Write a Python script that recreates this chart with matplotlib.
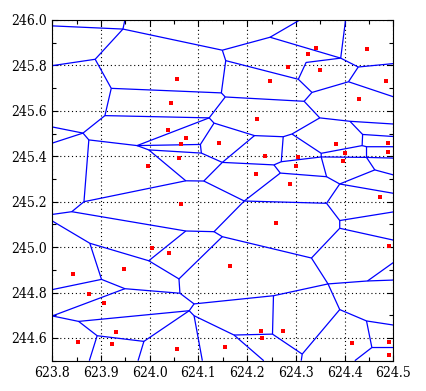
import matplotlib
matplotlib.use("Agg")
import matplotlib.pyplot as plt
from matplotlib.collections import LineCollection
from matplotlib.ticker import MultipleLocator, FormatStrFormatter

# red sample points (x, y)
point_x = [624.055, 624.044, 624.038, 624.075, 624.065, 624.061, 623.997, 624.143,
           624.342, 624.324, 624.445, 624.283, 624.350, 624.246, 624.484, 624.430,
           624.221, 624.383, 624.490, 624.400, 624.490, 624.237, 624.305, 624.397,
           624.301, 624.219, 624.287, 624.473, 624.065, 624.005, 624.040, 623.947,
           623.843, 623.876, 623.907, 623.931, 623.853, 623.923, 624.055, 624.260,
           624.492, 624.165, 624.229, 624.231, 624.274, 624.155, 624.416, 624.492,
           624.492]
point_y = [245.739, 245.633, 245.514, 245.479, 245.453, 245.391, 245.357, 245.457,
           245.875, 245.849, 245.871, 245.792, 245.779, 245.730, 245.730, 245.651,
           245.563, 245.453, 245.457, 245.413, 245.417, 245.400, 245.395, 245.378,
           245.356, 245.321, 245.277, 245.219, 245.189, 244.995, 244.973, 244.902,
           244.880, 244.792, 244.753, 244.625, 244.581, 244.572, 244.550, 245.105,
           245.006, 244.916, 244.629, 244.599, 244.629, 244.559, 244.577, 244.581,
           244.524]

# voronoi vertices
vertices = {
    "L1": (623.800, 245.974), "V1": (623.945, 245.960), "T1": (623.949, 246.000),
    "V2": (623.888, 245.827), "L2": (623.800, 245.799), "V3": (623.921, 245.699),
    "V4": (623.908, 245.579), "V5": (623.863, 245.502), "L3": (623.800, 245.529),
    "L4": (623.800, 245.458), "V6": (624.122, 245.569), "V6b": (624.132, 245.546),
    "V7": (623.875, 245.472), "V8": (623.974, 245.447), "V9": (624.149, 245.867),
    "V10": (624.247, 245.924), "T2": (624.308, 246.000), "V11": (624.392, 245.832),
    "T3": (624.402, 246.000), "V17": (624.428, 245.793), "R1": (624.500, 245.808),
    "V16": (624.408, 245.728), "R2": (624.500, 245.662), "V12": (624.321, 245.813),
    "V13": (624.305, 245.739), "V14": (624.156, 245.821), "V18": (624.147, 245.679),
    "V19": (624.155, 245.661), "V15": (624.333, 245.681), "V20": (624.317, 245.642),
    "V21": (624.349, 245.569), "V46": (624.411, 245.554), "R3": (624.500, 245.542),
    "V49": (624.437, 245.496), "R4": (624.500, 245.487), "V73a": (624.436, 245.447),
    "V73b": (624.445, 245.442), "R5": (624.500, 245.442), "V71": (624.445, 245.395),
    "R6": (624.500, 245.392), "V48": (624.352, 245.413), "V43": (624.352, 245.397),
    "V47": (624.292, 245.498), "V42": (624.274, 245.486), "V22": (624.215, 245.491),
    "V41": (624.270, 245.376), "V40": (624.255, 245.362), "V23": (624.149, 245.373),
    "V28": (624.104, 245.452), "V26": (624.106, 245.414), "V25": (623.998, 245.428),
    "V27": (624.074, 245.292), "V39": (624.111, 245.291), "V38": (624.194, 245.203),
    "V72": (624.268, 245.326), "V44": (624.363, 245.310), "V45": (624.390, 245.278),
    "R7": (624.500, 245.237), "V70": (624.462, 245.340), "R8": (624.500, 245.318),
    "V68": (624.363, 245.193), "V69": (624.390, 245.117), "R9": (624.500, 245.155),
    "V61": (624.390, 245.083), "R10": (624.500, 245.031), "V60": (624.332, 244.952),
    "V37": (624.149, 245.046), "V30": (624.132, 245.068), "V34": (624.074, 245.071),
    "V29": (623.840, 245.156), "L5": (623.800, 245.144), "V24": (623.865, 245.200),
    "L6": (623.800, 245.115), "V31": (623.877, 245.017), "V33": (623.998, 244.940),
    "V35": (624.060, 244.860), "V36": (624.062, 244.797), "V32": (623.901, 244.858),
    "L7": (623.800, 244.813), "V51": (623.949, 244.817), "L8": (623.800, 244.697),
    "V52": (623.854, 244.673), "V53": (623.892, 244.610), "B1": (623.876, 244.500),
    "V54": (623.988, 244.585), "B2": (623.976, 244.500), "V56": (624.081, 244.720),
    "V50": (624.091, 244.750), "V57": (624.091, 244.698), "B3": (624.108, 244.500),
    "V58": (624.173, 244.613), "B4": (624.234, 244.500), "V59": (624.252, 244.617),
    "V55": (624.254, 244.786), "V62": (624.366, 244.838), "V66": (624.313, 244.529),
    "B5": (624.311, 244.500), "V64": (624.390, 244.725), "V63": (624.447, 244.851),
    "R11": (624.500, 244.855), "R12": (624.500, 244.932), "V65": (624.445, 244.675),
    "R13": (624.500, 244.657), "V67": (624.456, 244.558), "R14": (624.500, 244.558),
    "B6": (624.421, 244.500),
}

# chains of connected vertices
chains = [
    "L1 V1 V9 V10 V11 V17 R1", "V1 T1", "V10 T2", "V11 T3", "V1 V2 L2",
    "V2 V3 V4 V5 L3", "V5 L4", "V3 V18 V14 V9", "V14 V13 V12 V11",
    "V18 V19 V20 V21 V46 R3", "V13 V15 V16 R2", "V15 V20", "V16 V17",
    "V4 V6 V19", "V6 V6b V22 V42 V47 V21", "V6 V8 V7 V5", "V8 V28 V6b",
    "V8 V25 V26 V28", "V26 V23 V22", "V23 V40 V41 V42", "V47 V48 V73a V49 V46",
    "V49 R4", "V73a V73b R5", "V73b V71 R6", "V48 V43 V41", "V43 V71",
    "V43 V44 V72 V40", "V72 V38", "V44 V45 R7", "V45 V70 V71", "V70 R8",
    "V45 V68 V38", "V68 V69 R9", "V69 V61 R10", "V61 V60 V37 V30 V38",
    "V38 V39 V23", "V39 V27 V25", "V27 V24 V7", "V24 V29 L5", "V29 V34 V30",
    "V34 V33 V31 L6", "V33 V35 V37", "V31 V32 L7", "V32 V51 V36 V35", "V51 L8",
    "L8 V52 V53 B1", "V52 V56 V50 V36", "V53 V54 B2", "V54 V56", "V56 V57 B3",
    "V57 V58 B4", "V58 V59 V55 V50", "V55 V62 V60", "V59 V66 B5",
    "V66 V64 V62", "V62 V63 R11", "V63 R12", "V64 V65 R13", "V65 V67 R14",
    "V67 B6",
]

fig = plt.figure(figsize=(4.27, 3.91), dpi=100)
ax = fig.add_axes([0.1225, 0.0775, 0.7986, 0.8714])

segments = [[vertices[name] for name in chain.split()] for chain in chains]
ax.add_collection(LineCollection(segments, colors="#0000ff", linewidths=0.9, zorder=2))
ax.plot(point_x, point_y, "s", color="#ff0000", markersize=2.3,
        markeredgewidth=0, zorder=3)

ax.set_xlim(623.8, 624.5)
ax.set_ylim(244.5, 246.0)
ax.xaxis.set_major_locator(MultipleLocator(0.1))
ax.xaxis.set_minor_locator(MultipleLocator(0.05))
ax.yaxis.set_minor_locator(MultipleLocator(0.1))
ax.set_yticks([244.6, 244.8, 245.0, 245.2, 245.4, 245.6, 245.8, 246.0])
ax.xaxis.set_major_formatter(FormatStrFormatter("%.1f"))
ax.yaxis.set_major_formatter(FormatStrFormatter("%.1f"))
ax.tick_params(which="both", direction="in", top=True, right=True,
               labelsize=10, pad=4, width=0.8, color="black")
ax.tick_params(which="major", length=4)
ax.tick_params(which="minor", length=3)
for label in ax.get_xticklabels() + ax.get_yticklabels():
    label.set_family("DejaVu Serif")
    label.set_stretch("condensed")
ax.grid(True, which="major", color="black", linestyle=(0, (1, 2.5)),
        linewidth=0.8, zorder=1)
ax.set_axisbelow(True)
for spine in ax.spines.values():
    spine.set_linewidth(0.8)

fig.savefig("out.png", dpi=100)
